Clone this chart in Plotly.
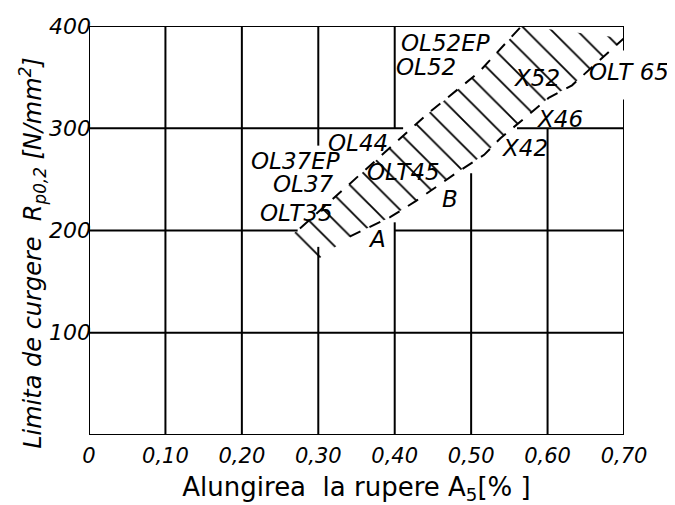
import plotly.graph_objects as go

# ---- axes ----
X_TICKS = [0, 0.10, 0.20, 0.30, 0.40, 0.50, 0.60, 0.70]
X_TICK_TEXT = ["0", "0,10", "0,20", "0,30", "0,40", "0,50", "0,60", "0,70"]
Y_TICKS = [100, 200, 300, 400]
Y_TICK_TEXT = ["100", "200", "300", "400"]

# ---- grid segments (partial, as drawn in the original) ----
# vertical: (x, y_from, y_to)
V_GRID = [
    (0.0, 0, 400), (0.1, 0, 400), (0.2, 0, 400),
    (0.3, 0, 184), (0.3, 283, 400),
    (0.4, 0, 208), (0.4, 300, 400),
    (0.5, 0, 256),
    (0.6, 0, 300),
    (0.7, 0, 328), (0.7, 376, 400),
]
# horizontal: (y, x_from, x_to)
H_GRID = [
    (0, 0, 0.7), (100, 0, 0.7),
    (200, 0, 0.273), (200, 0.40, 0.7),
    (300, 0, 0.411), (300, 0.56, 0.7),
    (400, 0, 0.7),
]

# ---- band boundaries (dashed) ----
UPPER_X = [0.276, 0.446, 0.509, 0.566]
UPPER_Y = [202, 316, 354, 400]
LOWER_X = [0.341, 0.394, 0.428, 0.480, 0.517, 0.538, 0.602, 0.632, 0.700]
LOWER_Y = [194, 213, 229, 256, 274, 290, 330, 342, 388]
# hatched band outline (boundaries extended to the lower-left end)
BAND_LEFT_X = [0.257, 0.302]
BAND_LEFT_Y = [191, 173]

# ---- steel grade labels ----
LABELS = ["OL52EP", "OL52", "X52", "OLT 65", "X46", "X42", "B",
          "OLT45", "OL44", "OL37EP", "OL37", "OLT35", "A"]
LABEL_X = [0.467, 0.441, 0.586, 0.707, 0.616, 0.570, 0.472,
           0.411, 0.352, 0.270, 0.281, 0.271, 0.377]
LABEL_Y = [383, 360, 349, 355, 309, 281, 231,
           257, 286, 268, 245, 217, 192]

X_RANGE = [0, 0.70]
Y_RANGE = [0, 400]
FONT = "DejaVu Sans"

fig = go.Figure()

# grid
gx, gy = [], []
for x, y0, y1 in V_GRID:
    gx += [x, x, None]
    gy += [y0, y1, None]
for y, x0, x1 in H_GRID:
    gx += [x0, x1, None]
    gy += [y, y, None]
fig.add_trace(go.Scatter(x=gx, y=gy, mode="lines",
                         line=dict(color="black", width=2),
                         hoverinfo="skip", showlegend=False, cliponaxis=False))

# hatched band
band_x = BAND_LEFT_X[:1] + UPPER_X + LOWER_X[::-1] + BAND_LEFT_X[1:]
band_y = BAND_LEFT_Y[:1] + UPPER_Y + LOWER_Y[::-1] + BAND_LEFT_Y[1:]
fig.add_trace(go.Scatter(
    x=band_x, y=band_y, mode="none", fill="toself",
    fillcolor="rgba(0,0,0,0)",
    fillpattern=dict(shape="\\", fgcolor="black", fgopacity=1,
                     bgcolor="rgba(0,0,0,0)", size=18, solidity=0.1),
    hoverinfo="skip", showlegend=False))

# dashed boundaries
for xs, ys in [(UPPER_X, UPPER_Y), (LOWER_X, LOWER_Y)]:
    fig.add_trace(go.Scatter(x=xs, y=ys, mode="lines",
                             line=dict(color="black", width=2, dash="12px,10px"),
                             hoverinfo="skip", showlegend=False, cliponaxis=False))

# labels (paper coordinates so labels beyond the right edge stay visible)
for t, x, y in zip(LABELS, LABEL_X, LABEL_Y):
    fig.add_annotation(x=(x - X_RANGE[0]) / (X_RANGE[1] - X_RANGE[0]),
                       y=(y - Y_RANGE[0]) / (Y_RANGE[1] - Y_RANGE[0]),
                       xref="paper", yref="paper", xanchor="center", yanchor="middle",
                       text=t, showarrow=False,
                       font=dict(family=FONT, size=23, color="black", style="italic"))

# y-axis title (placed as in the original, slightly below centre)
fig.add_annotation(x=-0.105, y=0.445, xref="paper", yref="paper",
                   xanchor="center", yanchor="middle",
                   text="Limita de curgere  R<sub>p0,2</sub> [N/mm<sup>2</sup>]",
                   textangle=-90, showarrow=False,
                   font=dict(family=FONT, size=24, color="black", style="italic"))

# the page body adds an 8px margin, so the figure is sized to fit the window
fig.update_layout(
    width=667, height=497,
    margin=dict(l=81, r=51, t=18, b=70),
    paper_bgcolor="white", plot_bgcolor="white",
    showlegend=False,
    xaxis=dict(range=X_RANGE, tickvals=X_TICKS, ticktext=X_TICK_TEXT,
               showgrid=False, zeroline=False, showline=False, ticks="",
               automargin=False, ticklabelstandoff=6,
               tickfont=dict(family=FONT, size=21, color="black", style="italic"),
               title=dict(text="Alungirea  la rupere A<sub>5</sub>[% ]",
                          font=dict(family=FONT, size=26, color="black"),
                          standoff=12)),
    yaxis=dict(range=Y_RANGE, tickvals=Y_TICKS, ticktext=Y_TICK_TEXT,
               showgrid=False, zeroline=False, showline=False, ticks="",
               automargin=False, ticklabelstandoff=-3,
               tickfont=dict(family=FONT, size=22, color="black", style="italic")),
)

fig.write_html("out.html")
